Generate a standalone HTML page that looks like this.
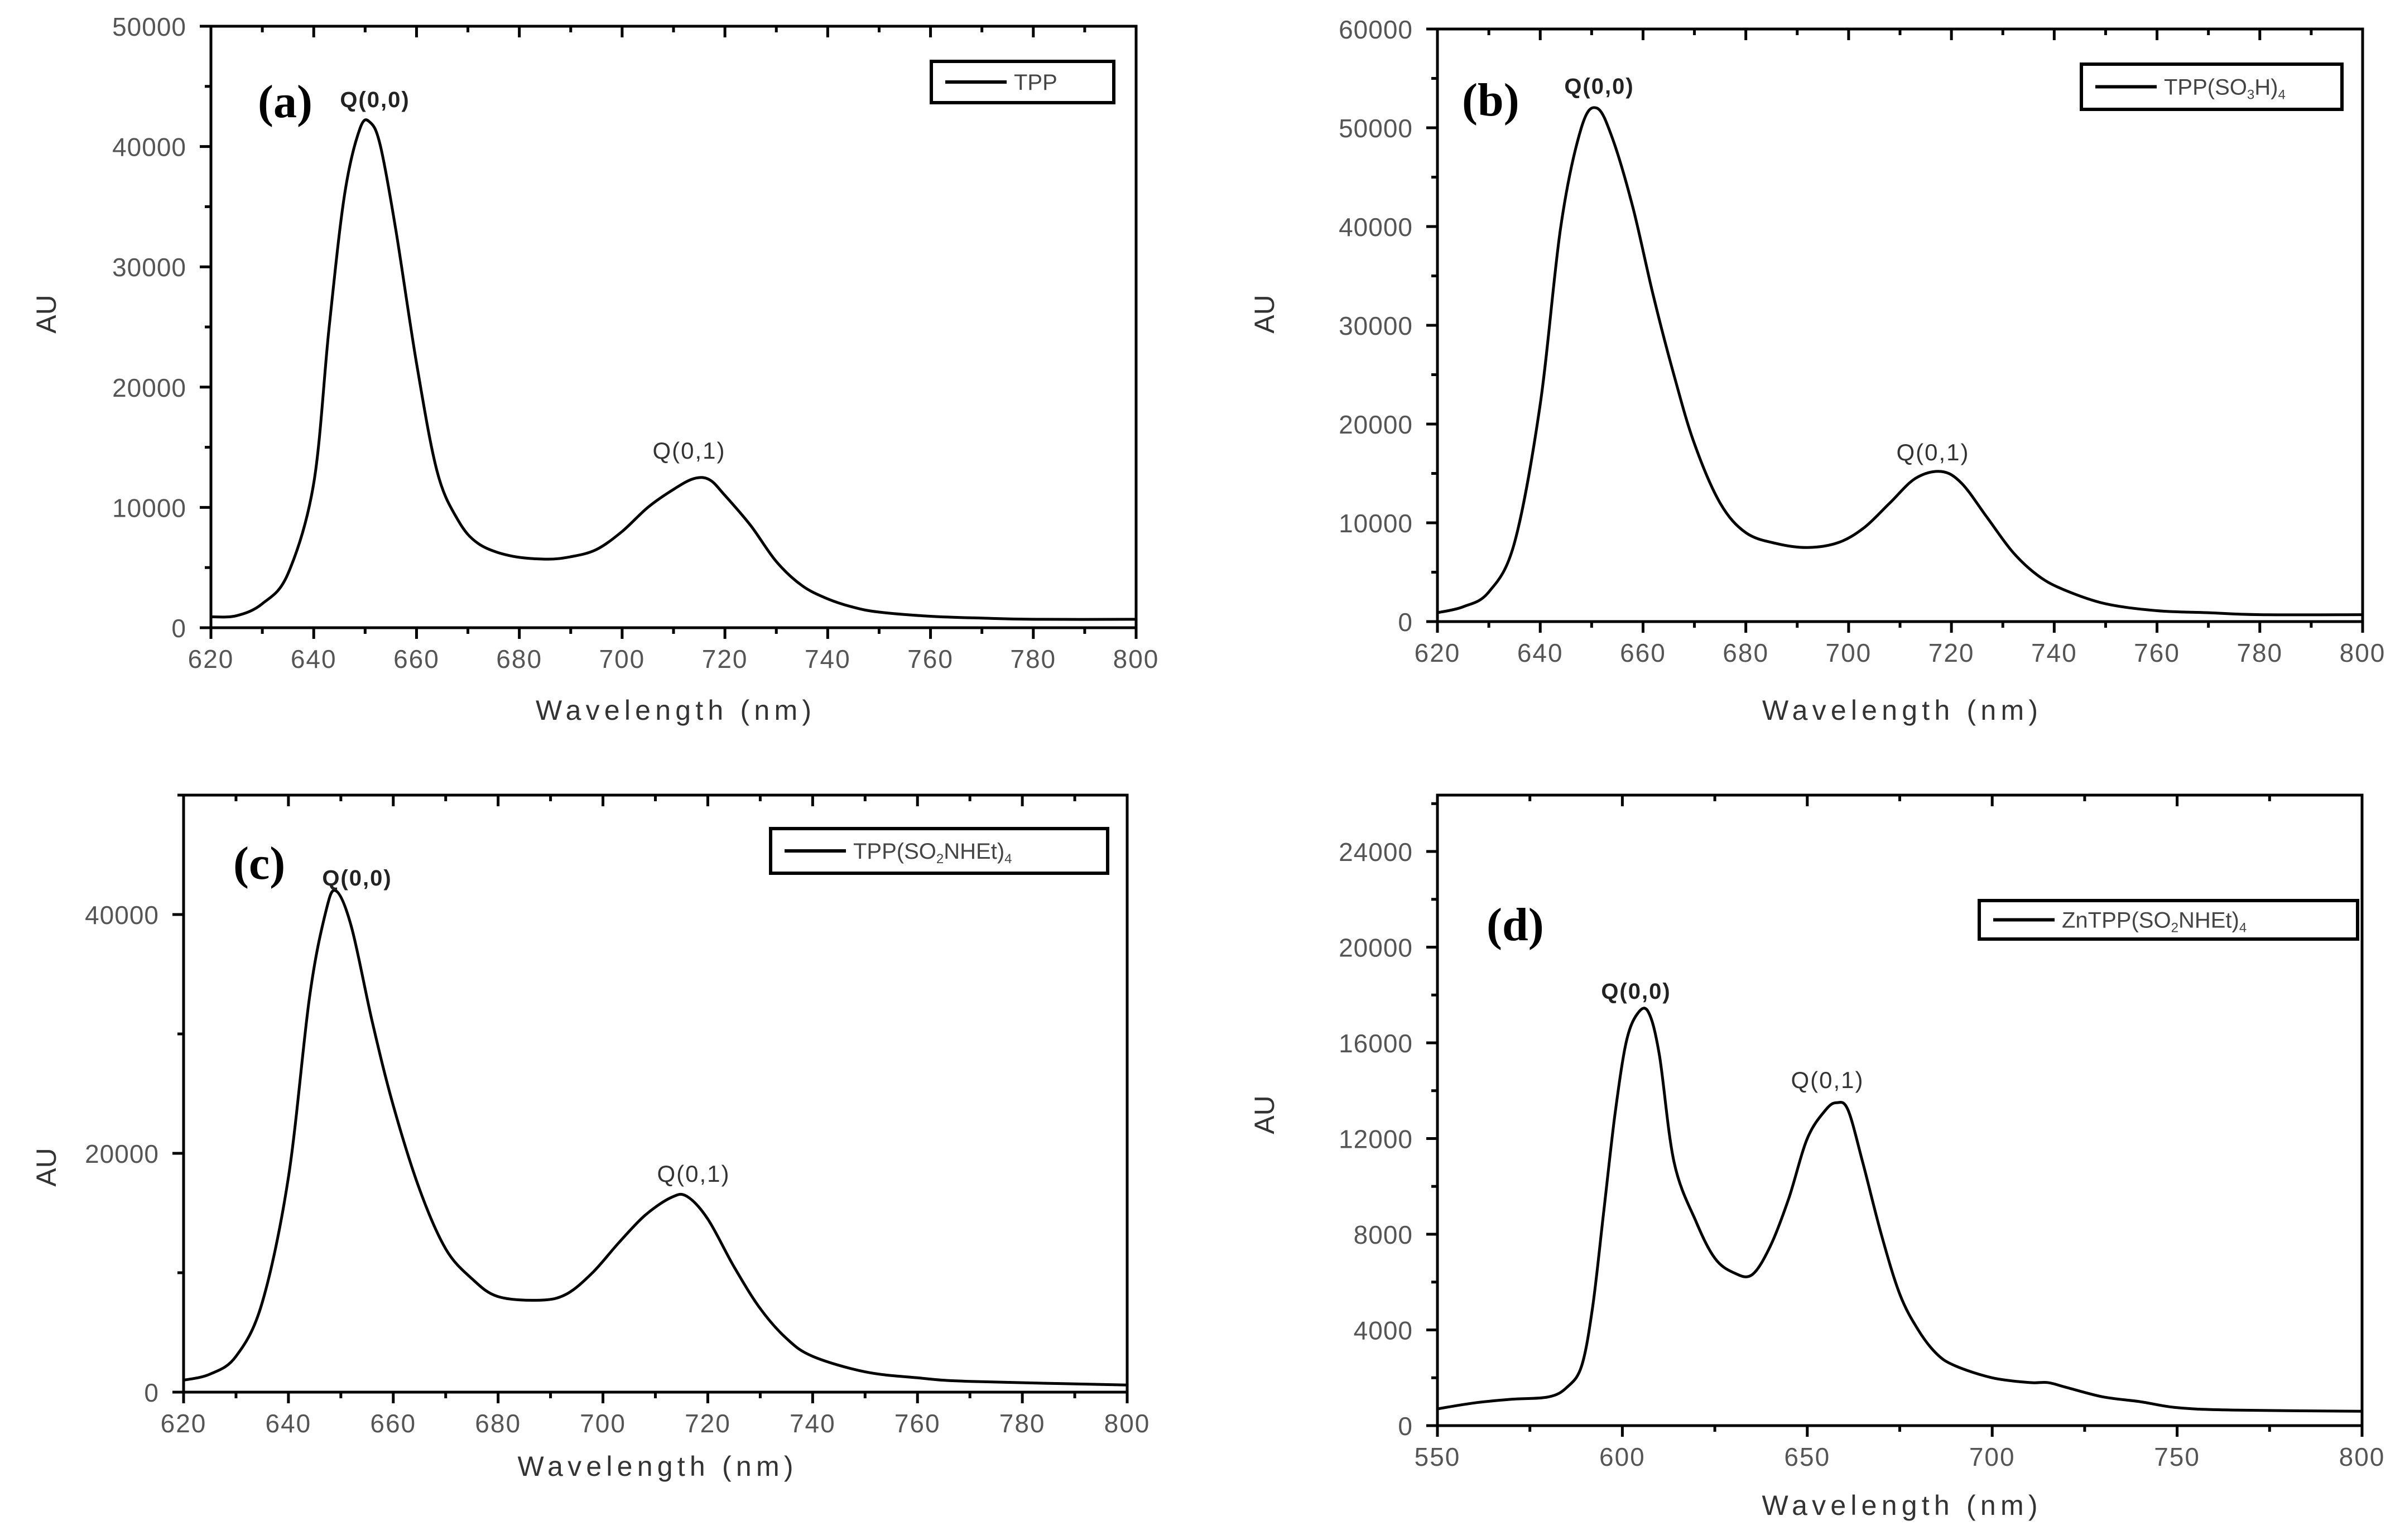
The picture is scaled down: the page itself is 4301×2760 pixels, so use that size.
<!DOCTYPE html>
<html><head><meta charset="utf-8"><style>
html,body{margin:0;padding:0;background:#fff;}
svg{display:block;}
</style></head><body>
<svg id="fig" width="4301" height="2760" viewBox="0 0 4301 2760" xmlns="http://www.w3.org/2000/svg" font-family="Liberation Sans, sans-serif">
<rect x="0" y="0" width="4301" height="2760" fill="#fff"/>
</svg>
<script>
// Panel (a) TPP
const aWave = [620,625,630,635,640,643,646,649,651,653,656,660,664,668,672,678,685,690,695,700,705,710,714,717,720,725,730,735,740,745,750,760,770,780,800];
const aAU   = [900,1000,2000,4500,12000,25000,36000,41500,42000,40000,33000,22000,13000,9000,7000,6000,5700,5900,6500,8000,10000,11500,12400,12300,11000,8500,5500,3500,2400,1700,1300,950,800,700,700];
// Panel (b) TPP(SO3H)4
const bWave = [620,625,630,635,640,644,648,651,654,658,662,666,670,675,680,686,692,698,703,708,713,718,722,727,732,737,742,750,760,770,780,800];
const bAU   = [900,1500,3000,8000,22000,40000,50000,52000,49000,42000,33000,25000,18000,12000,9000,7900,7500,8000,9500,12000,14500,15200,14000,10500,7000,4600,3200,1800,1100,900,700,700];
// Panel (c) TPP(SO2NHEt)4
const cWave = [620,625,630,635,640,644,647,649,652,656,660,665,670,675,680,688,693,698,703,708,713,716,720,725,730,735,740,750,760,770,800];
const cAU   = [1000,1500,3000,7500,18000,33000,40000,42000,39000,31000,24000,17000,12000,9500,8000,7700,8200,10000,12500,14800,16300,16400,14500,10500,7000,4500,3000,1700,1200,900,600];
// Panel (d) ZnTPP(SO2NHEt)4
const dWave = [550,560,570,580,585,589,592,595,598,601,604,607,610,614,620,625,630,635,640,645,650,655,658,661,665,670,675,680,685,690,700,710,715,720,730,740,750,765,800];
const dAU   = [700,950,1100,1200,1600,2500,5000,9000,13000,16000,17200,17300,15500,11000,8500,7000,6400,6300,7500,9500,12000,13200,13500,13200,11000,8000,5500,4000,3000,2500,2000,1800,1800,1600,1200,1000,750,650,600];
// tick labels
const aXTicks = [620,640,660,680,700,720,740,760,780,800];
const aYTicks = [0,10000,20000,30000,40000,50000];
const bXTicks = [620,640,660,680,700,720,740,760,780,800];
const bYTicks = [0,10000,20000,30000,40000,50000,60000];
const cXTicks = [620,640,660,680,700,720,740,760,780,800];
const cYTicks = [0,20000,40000];
const dXTicks = [550,600,650,700,750,800];
const dYTicks = [0,4000,8000,12000,16000,20000,24000];

const NS="http://www.w3.org/2000/svg";
const svg=document.getElementById('fig');
function mk(tag,attrs,parent){const e=document.createElementNS(NS,tag);for(const k in attrs)e.setAttribute(k,attrs[k]);(parent||svg).appendChild(e);return e;}

function smoothPath(pts){
  let d='M'+pts[0][0].toFixed(1)+' '+pts[0][1].toFixed(1);
  for(let i=0;i<pts.length-1;i++){
    const p0=pts[i-1]||pts[i],p1=pts[i],p2=pts[i+1],p3=pts[i+2]||pts[i+1];
    const c1=[p1[0]+(p2[0]-p0[0])/6,p1[1]+(p2[1]-p0[1])/6];
    const c2=[p2[0]-(p3[0]-p1[0])/6,p2[1]-(p3[1]-p1[1])/6];
    d+=' C'+c1[0].toFixed(1)+' '+c1[1].toFixed(1)+' '+c2[0].toFixed(1)+' '+c2[1].toFixed(1)+' '+p2[0].toFixed(1)+' '+p2[1].toFixed(1);
  }
  return d;
}

function panel(cfg){
  const g=mk('g',{});
  
  
  const sx=v=>cfg.x0+(v-cfg.xmin)/(cfg.xmax-cfg.xmin)*(cfg.x1-cfg.x0);
  const sy=v=>cfg.y0-v/cfg.yref*(cfg.y0-cfg.yrefPx);
  const fr=mk('rect',{x:cfg.x0,y:cfg.ytop,width:cfg.x1-cfg.x0,height:cfg.y0-cfg.ytop,fill:'none',stroke:'#000','stroke-width':5},g);
  
  
  const xstep=(cfg.xt[1]-cfg.xt[0])/2;
  for(let v=cfg.xmin;v<=cfg.xmax+0.01;v+=xstep){
    const major=Math.abs(((v-cfg.xmin)/(xstep*2))%1)<0.01;
    const X=sx(v), L=major?20:11;
    mk('line',{x1:X,y1:cfg.y0,x2:X,y2:cfg.y0+L,stroke:'#000','stroke-width':5},g);
    mk('line',{x1:X,y1:cfg.ytop,x2:X,y2:cfg.ytop+L,stroke:'#000','stroke-width':5},g);
  }
  cfg.xt.forEach(v=>{
    const t=mk('text',{x:sx(v),y:cfg.y0+72,'text-anchor':'middle','font-size':46,fill:'#555','letter-spacing':2},g);
    t.textContent=v;
    
    
  });
  const ystep=(cfg.yt[1]-cfg.yt[0])/2;
  for(let v=0;sy(v)>=cfg.ytop-1;v+=ystep){
    const major=Math.abs((v/(ystep*2))%1)<0.01;
    const Y=sy(v), L=major?20:11;
    mk('line',{x1:cfg.x0-L,y1:Y,x2:cfg.x0,y2:Y,stroke:'#000','stroke-width':5},g);
  }
  cfg.yt.forEach(v=>{
    const t=mk('text',{x:cfg.x0-44,y:sy(v)+17,'text-anchor':'end','font-size':46,fill:'#555','letter-spacing':1},g);
    t.textContent=v;
    
    
  });
  const pts=cfg.xs.map((v,i)=>[sx(v),sy(cfg.ys[i])]);
  const p=mk('path',{d:smoothPath(pts),fill:'none',stroke:'#000','stroke-width':5,'stroke-linejoin':'round'},g);
  
  
  const xt=mk('text',{x:(cfg.x0+cfg.x1)/2,y:cfg.xlabY,'text-anchor':'middle','font-size':50,fill:'#333',textLength:494,lengthAdjust:'spacing'},g);
  xt.textContent='Wavelength (nm)';
  
  
  const yt=mk('text',{x:0,y:0,'text-anchor':'middle','font-size':50,fill:'#333',transform:'translate('+(cfg.auX+18)+','+cfg.auY+') rotate(-90)'},g);
  yt.textContent='AU';
  
  
  const pl=mk('text',{x:cfg.lab[0],y:cfg.lab[1],'font-size':84,'font-family':'Liberation Serif, serif','font-weight':'bold',fill:'#000'},g);
  pl.textContent='('+cfg.id+')';
  
  
  const q0=mk('text',{x:cfg.q0[0],y:cfg.q0[1],'text-anchor':'middle','font-size':40,'font-weight':'bold',fill:'#222','letter-spacing':2},g);
  q0.textContent='Q(0,0)';
  
  
  const q1=mk('text',{x:cfg.q1[0],y:cfg.q1[1],'text-anchor':'middle','font-size':42,fill:'#333','letter-spacing':2},g);
  q1.textContent='Q(0,1)';
  
  
  const L=cfg.leg;
  const lg=mk('g',{},g);
  
  
  mk('rect',{x:L[0],y:L[1],width:L[2]-L[0],height:L[3]-L[1],fill:'#fff',stroke:'#000','stroke-width':6},lg);
  const my=(L[1]+L[3])/2;
  mk('line',{x1:L[0]+25,y1:my,x2:L[0]+135,y2:my,stroke:'#000','stroke-width':6},lg);
  const lt=mk('text',{x:L[0]+148,y:my+14,'font-size':40,fill:'#444'},lg);
  lt.innerHTML=cfg.legText;
}

panel({id:'a',x0:378,x1:2036,y0:1125,ytop:47,xmin:620,xmax:800,yref:50000,yrefPx:47,xt:aXTicks,yt:aYTicks,xs:aWave,ys:aAU,
  xlabY:1290,auX:82,auY:563,lab:[462,210],q0:[672,192],q1:[1235,822],leg:[1669,110,1996,184],legText:'TPP'});
panel({id:'b',x0:2576,x1:4234,y0:1114,ytop:52,xmin:620,xmax:800,yref:60000,yrefPx:52,xt:bXTicks,yt:bYTicks,xs:bWave,ys:bAU,
  xlabY:1290,auX:2265,auY:563,lab:[2620,207],q0:[2866,168],q1:[3464,825],leg:[3730,115,4197,196],legText:'TPP(SO<tspan font-size="24" dy="8">3</tspan><tspan dy="-8">H)</tspan><tspan font-size="24" dy="8">4</tspan>'});
panel({id:'c',x0:329,x1:2020,y0:2495,ytop:1425,xmin:620,xmax:800,yref:40000,yrefPx:1639,xt:cXTicks,yt:cYTicks,xs:cWave,ys:cAU,
  xlabY:2645,auX:82,auY:2092,lab:[418,1575],q0:[640,1587],q1:[1243,2118],leg:[1381,1485,1985,1565],legText:'TPP(SO<tspan font-size="24" dy="8">2</tspan><tspan dy="-8">NHEt)</tspan><tspan font-size="24" dy="8">4</tspan>'});
panel({id:'d',x0:2576,x1:4233,y0:2555,ytop:1425,xmin:550,xmax:800,yref:24000,yrefPx:1526,xt:dXTicks,yt:dYTicks,xs:dWave,ys:dAU,
  xlabY:2715,auX:2265,auY:1998,lab:[2664,1685],q0:[2932,1790],q1:[3275,1950],leg:[3547,1614,4225,1683],legText:'ZnTPP(SO<tspan font-size="24" dy="8">2</tspan><tspan dy="-8">NHEt)</tspan><tspan font-size="24" dy="8">4</tspan>'});
</script>
</body></html>
